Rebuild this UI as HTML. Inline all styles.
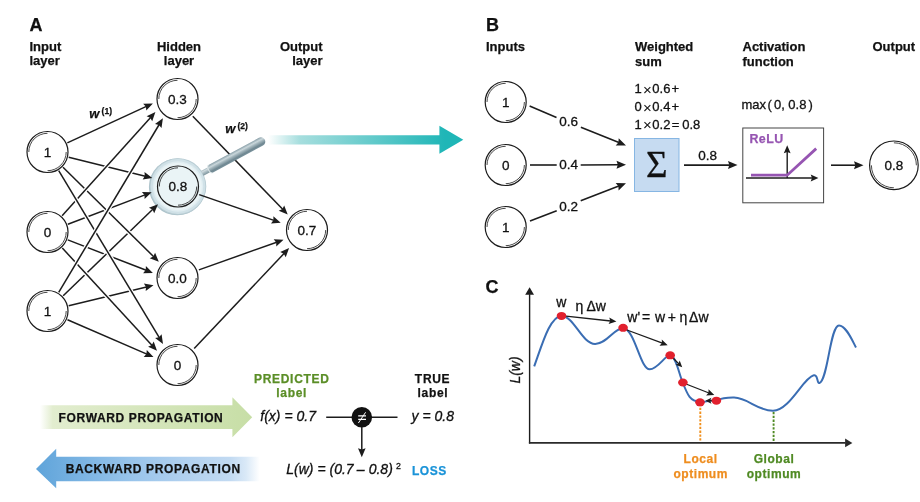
<!DOCTYPE html>
<html><head><meta charset="utf-8"><style>
html,body{margin:0;padding:0;background:#fff;}
svg{display:block;font-family:"Liberation Sans",sans-serif;will-change:transform;}
text{stroke:#111;stroke-width:0.3px;fill:#111;}
text.b{stroke-width:0.25px;}
.b{font-weight:bold;}
.i{font-style:italic;}
</style></head><body>
<svg width="920" height="502" viewBox="0 0 920 502">
<defs>
<linearGradient id="teal" x1="268" y1="0" x2="445" y2="0" gradientUnits="userSpaceOnUse">
<stop offset="0" stop-color="#ffffff"/><stop offset="0.18" stop-color="#a6dede"/><stop offset="1" stop-color="#1fb6b7"/>
</linearGradient>
<linearGradient id="fwd" x1="40" y1="0" x2="252" y2="0" gradientUnits="userSpaceOnUse">
<stop offset="0" stop-color="#ffffff"/><stop offset="0.06" stop-color="#e2edcf"/><stop offset="1" stop-color="#c7dea6"/>
</linearGradient>
<linearGradient id="bwd" x1="36" y1="0" x2="262" y2="0" gradientUnits="userSpaceOnUse">
<stop offset="0" stop-color="#5fa4da"/><stop offset="0.2" stop-color="#7ab3e2"/><stop offset="0.42" stop-color="#98c4eb"/><stop offset="0.65" stop-color="#b0d0ef"/><stop offset="0.86" stop-color="#c2daf2"/><stop offset="0.93" stop-color="#dae9f7"/><stop offset="0.99" stop-color="#ffffff"/>
</linearGradient>
<linearGradient id="handle" x1="0" y1="-4.3" x2="0" y2="4.3" gradientUnits="userSpaceOnUse">
<stop offset="0" stop-color="#8aa0a9"/><stop offset="0.28" stop-color="#cad7db"/><stop offset="0.5" stop-color="#9fb2b9"/><stop offset="0.8" stop-color="#6f8791"/><stop offset="1" stop-color="#7a939d"/>
</linearGradient>
<linearGradient id="handle2" x1="0" y1="-3.4" x2="0" y2="3.4" gradientUnits="userSpaceOnUse">
<stop offset="0" stop-color="#8fa5ad"/><stop offset="0.3" stop-color="#d0dbdf"/><stop offset="0.6" stop-color="#a3b6bd"/><stop offset="1" stop-color="#718992"/>
</linearGradient>
<radialGradient id="lens" cx="0" cy="0" r="28" gradientUnits="userSpaceOnUse">
<stop offset="0" stop-color="#eef7f8"/><stop offset="0.8" stop-color="#e3f0f3"/><stop offset="1" stop-color="#d5e6ea"/>
</radialGradient>
</defs>

<text x="29.5" y="30.6" class="b" font-size="18">A</text>
<text x="486" y="30.5" class="b" font-size="18">B</text>
<text x="485.5" y="292.5" class="b" font-size="18">C</text>
<text class="b" font-size="13"><tspan x="29.5" y="50.5">Input</tspan><tspan x="29.5" y="65.3">layer</tspan></text>
<text class="b" font-size="13" text-anchor="middle"><tspan x="179" y="50.7">Hidden</tspan><tspan x="179" y="64.8">layer</tspan></text>
<text class="b" font-size="13" text-anchor="end"><tspan x="322.5" y="50.7">Output</tspan><tspan x="322.5" y="64.8">layer</tspan></text>
<path d="M268 135.2 L439.4 135.2 L439.4 125.8 L463.3 139.8 L439.4 153.8 L439.4 144.5 L268 144.5Z" fill="url(#teal)"/>
<g transform="translate(178,186.5)">
<circle cx="-0.7" cy="0.4" r="28.4" fill="#a9c0c8"/>
<circle r="28.3" fill="#b9cdd4"/>
<circle r="27.4" fill="#d0e1e7"/>
<circle r="25.2" fill="#e0edf1"/>
<circle r="23.8" fill="#eaf4f6"/>
</g>
<line x1="68.7" y1="305.8" x2="146.5" y2="286.9" stroke="#fff" stroke-width="4.1"/>
<line x1="68.7" y1="305.8" x2="146.5" y2="286.9" stroke="#1c1c1c" stroke-width="1.5"/>
<path d="M153.5 285.2 L145.7 291.0 L146.0 287.0 L143.9 283.6Z" fill="#1c1c1c"/>
<line x1="68.7" y1="157.2" x2="145.3" y2="176.2" stroke="#fff" stroke-width="4.1"/>
<line x1="68.7" y1="157.2" x2="145.3" y2="176.2" stroke="#1c1c1c" stroke-width="1.5"/>
<path d="M152.3 177.9 L142.7 179.4 L144.8 176.1 L144.5 172.1Z" fill="#1c1c1c"/>
<line x1="67.9" y1="224.2" x2="145.0" y2="194.9" stroke="#fff" stroke-width="4.1"/>
<line x1="67.9" y1="224.2" x2="145.0" y2="194.9" stroke="#1c1c1c" stroke-width="1.5"/>
<path d="M151.7 192.3 L144.6 199.1 L144.5 195.0 L141.9 192.0Z" fill="#1c1c1c"/>
<line x1="67.8" y1="239.9" x2="146.2" y2="270.3" stroke="#fff" stroke-width="4.1"/>
<line x1="67.8" y1="239.9" x2="146.2" y2="270.3" stroke="#1c1c1c" stroke-width="1.5"/>
<path d="M152.9 272.9 L143.1 273.2 L145.7 270.1 L145.9 266.1Z" fill="#1c1c1c"/>
<line x1="67.5" y1="319.7" x2="146.9" y2="354.1" stroke="#fff" stroke-width="4.1"/>
<line x1="67.5" y1="319.7" x2="146.9" y2="354.1" stroke="#1c1c1c" stroke-width="1.5"/>
<path d="M153.5 357.0 L143.7 356.9 L146.4 353.9 L146.8 349.9Z" fill="#1c1c1c"/>
<line x1="67.3" y1="142.9" x2="146.4" y2="106.4" stroke="#fff" stroke-width="4.1"/>
<line x1="67.3" y1="142.9" x2="146.4" y2="106.4" stroke="#1c1c1c" stroke-width="1.5"/>
<path d="M152.9 103.4 L146.3 110.6 L145.9 106.6 L143.1 103.7Z" fill="#1c1c1c"/>
<line x1="63.2" y1="295.8" x2="152.8" y2="209.2" stroke="#fff" stroke-width="4.1"/>
<line x1="63.2" y1="295.8" x2="152.8" y2="209.2" stroke="#1c1c1c" stroke-width="1.5"/>
<path d="M158.0 204.2 L154.2 213.2 L152.5 209.6 L148.9 207.7Z" fill="#1c1c1c"/>
<line x1="63.0" y1="167.3" x2="153.7" y2="256.7" stroke="#fff" stroke-width="4.1"/>
<line x1="63.0" y1="167.3" x2="153.7" y2="256.7" stroke="#1c1c1c" stroke-width="1.5"/>
<path d="M158.8 261.8 L149.7 258.2 L153.3 256.4 L155.1 252.8Z" fill="#1c1c1c"/>
<line x1="62.3" y1="248.0" x2="152.1" y2="345.5" stroke="#fff" stroke-width="4.1"/>
<line x1="62.3" y1="248.0" x2="152.1" y2="345.5" stroke="#1c1c1c" stroke-width="1.5"/>
<path d="M157.0 350.8 L148.1 346.8 L151.8 345.1 L153.7 341.6Z" fill="#1c1c1c"/>
<line x1="62.1" y1="215.8" x2="150.6" y2="117.5" stroke="#fff" stroke-width="4.1"/>
<line x1="62.1" y1="215.8" x2="150.6" y2="117.5" stroke="#1c1c1c" stroke-width="1.5"/>
<path d="M155.4 112.1 L152.2 121.3 L150.2 117.8 L146.6 116.2Z" fill="#1c1c1c"/>
<line x1="58.7" y1="170.7" x2="159.3" y2="337.7" stroke="#fff" stroke-width="4.1"/>
<line x1="58.7" y1="170.7" x2="159.3" y2="337.7" stroke="#1c1c1c" stroke-width="1.5"/>
<path d="M163.0 343.9 L155.1 338.1 L159.0 337.3 L161.6 334.2Z" fill="#1c1c1c"/>
<line x1="58.7" y1="292.3" x2="159.2" y2="124.5" stroke="#fff" stroke-width="4.1"/>
<line x1="58.7" y1="292.3" x2="159.2" y2="124.5" stroke="#1c1c1c" stroke-width="1.5"/>
<path d="M162.9 118.3 L161.5 128.0 L158.9 124.9 L155.0 124.1Z" fill="#1c1c1c"/>
<line x1="192.8" y1="116.2" x2="282.7" y2="209.3" stroke="#1c1c1c" stroke-width="1.5"/>
<path d="M287.7 214.5 L278.7 210.7 L282.4 209.0 L284.2 205.4Z" fill="#1c1c1c"/>
<line x1="198.9" y1="269.9" x2="276.7" y2="242.2" stroke="#1c1c1c" stroke-width="1.5"/>
<path d="M283.5 239.8 L276.3 246.4 L276.2 242.4 L273.7 239.2Z" fill="#1c1c1c"/>
<line x1="194.2" y1="348.6" x2="284.2" y2="253.3" stroke="#1c1c1c" stroke-width="1.5"/>
<path d="M289.1 248.1 L285.7 257.3 L283.8 253.7 L280.2 252.0Z" fill="#1c1c1c"/>
<g transform="translate(47.5,152)">
<circle r="20.5" fill="#fff" stroke="#1c1c1c" stroke-width="1.2"/>
<path d="M-18.7 0 A18.7 18.7 0 0 1 0 -18.7 M18.7 0 A18.7 18.7 0 0 1 0 18.7" fill="none" stroke="#1c1c1c" stroke-width="0.8"/>
<text x="0" y="4.83" text-anchor="middle" font-size="13.5">1</text>
</g>
<g transform="translate(47.5,232)">
<circle r="20.5" fill="#fff" stroke="#1c1c1c" stroke-width="1.2"/>
<path d="M-18.7 0 A18.7 18.7 0 0 1 0 -18.7 M18.7 0 A18.7 18.7 0 0 1 0 18.7" fill="none" stroke="#1c1c1c" stroke-width="0.8"/>
<text x="0" y="4.83" text-anchor="middle" font-size="13.5">0</text>
</g>
<g transform="translate(47.5,311)">
<circle r="20.5" fill="#fff" stroke="#1c1c1c" stroke-width="1.2"/>
<path d="M-18.7 0 A18.7 18.7 0 0 1 0 -18.7 M18.7 0 A18.7 18.7 0 0 1 0 18.7" fill="none" stroke="#1c1c1c" stroke-width="0.8"/>
<text x="0" y="4.83" text-anchor="middle" font-size="13.5">1</text>
</g>
<g transform="translate(177.5,99)">
<circle r="20.5" fill="#fff" stroke="#1c1c1c" stroke-width="1.2"/>
<path d="M-18.7 0 A18.7 18.7 0 0 1 0 -18.7 M18.7 0 A18.7 18.7 0 0 1 0 18.7" fill="none" stroke="#1c1c1c" stroke-width="0.8"/>
<text x="0" y="4.83" text-anchor="middle" font-size="13.5">0.3</text>
</g>
<g transform="translate(178,186.5) rotate(-28.4)">
<rect x="27.6" y="-2.7" width="10" height="5.4" fill="url(#handle2)"/>
<path d="M37 -4.3H94.3A4.3 4.3 0 0 1 94.3 4.3H37A2.2 4.3 0 0 1 37 -4.3Z" fill="url(#handle)"/>
<path d="M37 -4.3A2.2 4.3 0 0 0 37 4.3" fill="none" stroke="#e4ecee" stroke-width="1.2" opacity="0.8"/>
</g>
<g transform="translate(178,186.5)">
<circle r="20.5" fill="none" stroke="#1c1c1c" stroke-width="1.2"/>
<path d="M-18.7 0 A18.7 18.7 0 0 1 0 -18.7 M18.7 0 A18.7 18.7 0 0 1 0 18.7" fill="none" stroke="#1c1c1c" stroke-width="0.8"/>
<text x="0" y="4.83" text-anchor="middle" font-size="13.5">0.8</text>
</g>
<line x1="199.2" y1="194.6" x2="273.9" y2="220.4" stroke="#1c1c1c" stroke-width="1.5"/>
<path d="M280.7 222.8 L271.0 223.4 L273.4 220.3 L273.4 216.3Z" fill="#1c1c1c"/>
<g transform="translate(177.5,278)">
<circle r="20.5" fill="#fff" stroke="#1c1c1c" stroke-width="1.2"/>
<path d="M-18.7 0 A18.7 18.7 0 0 1 0 -18.7 M18.7 0 A18.7 18.7 0 0 1 0 18.7" fill="none" stroke="#1c1c1c" stroke-width="0.8"/>
<text x="0" y="4.83" text-anchor="middle" font-size="13.5">0.0</text>
</g>
<g transform="translate(177.5,365)">
<circle r="20.5" fill="#fff" stroke="#1c1c1c" stroke-width="1.2"/>
<path d="M-18.7 0 A18.7 18.7 0 0 1 0 -18.7 M18.7 0 A18.7 18.7 0 0 1 0 18.7" fill="none" stroke="#1c1c1c" stroke-width="0.8"/>
<text x="0" y="4.83" text-anchor="middle" font-size="13.5">0</text>
</g>
<g transform="translate(307,230)">
<circle r="20.5" fill="#fff" stroke="#1c1c1c" stroke-width="1.2"/>
<path d="M-18.7 0 A18.7 18.7 0 0 1 0 -18.7 M18.7 0 A18.7 18.7 0 0 1 0 18.7" fill="none" stroke="#1c1c1c" stroke-width="0.8"/>
<text x="0" y="4.83" text-anchor="middle" font-size="13.5">0.7</text>
</g>
<text x="89.3" y="117.5" class="b i" font-size="13">w</text><text x="101.6" y="113.7" class="b" font-size="8.5">(1)</text>
<text x="225.3" y="132.7" class="b i" font-size="13">w</text><text x="237.4" y="128.9" class="b" font-size="8.5">(2)</text>
<path d="M40 405.2 L232.4 405.2 L232.4 397.3 L252.2 417.2 L232.4 437.3 L232.4 429 L40 429Z" fill="url(#fwd)"/>
<text x="58.6" y="422.3" class="b" font-size="12" letter-spacing="0.64">FORWARD PROPAGATION</text>
<path d="M36 469 L56.2 448.8 L56.2 456.7 L262 456.7 L262 481.3 L56.2 481.3 L56.2 488.3Z" fill="url(#bwd)"/>
<text x="65.7" y="473.4" class="b" font-size="12" letter-spacing="0.64">BACKWARD PROPAGATION</text>
<text class="b" font-size="12" style="fill:#5b8e27;stroke:#5b8e27" text-anchor="middle" letter-spacing="0.7"><tspan x="291.8" y="382.8">PREDICTED</tspan><tspan x="291.7" y="397.4">label</tspan></text>
<text class="b" font-size="12" style="fill:#111;stroke:#111" text-anchor="middle" letter-spacing="0.7"><tspan x="432.6" y="382.8">TRUE</tspan><tspan x="432.9" y="397.4">label</tspan></text>
<text x="260.3" y="420.7" class="i" font-size="14">f(x) = 0.7</text>
<text x="411.6" y="420.7" class="i" font-size="14">y = 0.8</text>
<line x1="326.2" y1="417.2" x2="397.5" y2="417.2" stroke="#1c1c1c" stroke-width="1.5"/>
<circle cx="361.8" cy="417.2" r="10.3" fill="#111"/>
<path d="M358.2 415.8H366M358.2 419.4H366" stroke="#fff" stroke-width="1.3"/><path d="M358.4 423L365.6 412.3" stroke="#fff" stroke-width="1"/>
<line x1="361.8" y1="427.0" x2="361.8" y2="450.1" stroke="#1c1c1c" stroke-width="1.5"/>
<path d="M361.8 457.3 L358.0 448.3 L361.8 449.6 L365.6 448.3Z" fill="#1c1c1c"/>
<text y="473.7" class="i" font-size="14"><tspan x="286.3">L(w) = (0.7</tspan><tspan x="356.8">–</tspan><tspan x="368.7">0.8)</tspan></text><text x="396" y="468.8" font-size="8.8">2</text>
<text x="411.9" y="474.7" class="b" font-size="12" style="fill:#1a93d8;stroke:#1a93d8" letter-spacing="0.6">LOSS</text>
<text class="b" font-size="13" x="486" y="50.5">Inputs</text>
<text class="b" font-size="13"><tspan x="635" y="50.5">Weighted</tspan><tspan x="635" y="65.5">sum</tspan></text>
<text class="b" font-size="13"><tspan x="742.5" y="50.5">Activation</tspan><tspan x="742.5" y="65.5">function</tspan></text>
<text class="b" font-size="13" x="872.5" y="50.5">Output</text>
<g transform="translate(505.7,102)">
<circle r="20.5" fill="#fff" stroke="#1c1c1c" stroke-width="1.2"/>
<path d="M-18.7 0 A18.7 18.7 0 0 1 0 -18.7 M18.7 0 A18.7 18.7 0 0 1 0 18.7" fill="none" stroke="#1c1c1c" stroke-width="0.8"/>
<text x="0" y="4.83" text-anchor="middle" font-size="13.5">1</text>
</g>
<g transform="translate(505.7,165)">
<circle r="20.5" fill="#fff" stroke="#1c1c1c" stroke-width="1.2"/>
<path d="M-18.7 0 A18.7 18.7 0 0 1 0 -18.7 M18.7 0 A18.7 18.7 0 0 1 0 18.7" fill="none" stroke="#1c1c1c" stroke-width="0.8"/>
<text x="0" y="4.83" text-anchor="middle" font-size="13.5">0</text>
</g>
<g transform="translate(505.7,227)">
<circle r="20.5" fill="#fff" stroke="#1c1c1c" stroke-width="1.2"/>
<path d="M-18.7 0 A18.7 18.7 0 0 1 0 -18.7 M18.7 0 A18.7 18.7 0 0 1 0 18.7" fill="none" stroke="#1c1c1c" stroke-width="0.8"/>
<text x="0" y="4.83" text-anchor="middle" font-size="13.5">1</text>
</g>
<line x1="529.6" y1="106.1" x2="556.5" y2="117.5" stroke="#1c1c1c" stroke-width="1.6"/>
<line x1="580.9" y1="127.2" x2="618.9" y2="142.6" stroke="#1c1c1c" stroke-width="1.6"/>
<path d="M626.0 145.5 L615.7 145.6 L618.4 142.4 L618.7 138.2Z" fill="#1c1c1c"/>
<line x1="530" y1="165" x2="556.7" y2="165" stroke="#1c1c1c" stroke-width="1.6"/>
<line x1="580.7" y1="165.0" x2="618.3" y2="164.8" stroke="#1c1c1c" stroke-width="1.6"/>
<path d="M626.0 164.8 L616.5 168.8 L617.8 164.8 L616.5 160.8Z" fill="#1c1c1c"/>
<line x1="530" y1="220.9" x2="556.7" y2="210.7" stroke="#1c1c1c" stroke-width="1.6"/>
<line x1="580.7" y1="200.8" x2="618.8" y2="186.1" stroke="#1c1c1c" stroke-width="1.6"/>
<path d="M626.0 183.3 L618.6 190.5 L618.4 186.3 L615.7 183.0Z" fill="#1c1c1c"/>
<text font-size="13.5" x="559.3" y="126.1">0.6</text>
<text font-size="13.5" x="559.3" y="169.4">0.4</text>
<text font-size="13.5" x="559.3" y="211.2">0.2</text>
<text font-size="13"><tspan x="634.4" y="93.3">1</tspan><tspan x="643" y="95" font-size="15" stroke-width="0">×</tspan><tspan x="652.3" y="93.3">0.6</tspan><tspan x="671.6">+</tspan><tspan x="634.4" y="111">0</tspan><tspan x="643" y="112.7" font-size="15" stroke-width="0">×</tspan><tspan x="652.3" y="111">0.4</tspan><tspan x="671.6">+</tspan><tspan x="634.4" y="128.6">1</tspan><tspan x="643" y="130.3" font-size="15" stroke-width="0">×</tspan><tspan x="652.3" y="128.6">0.2</tspan><tspan x="671.8">=</tspan><tspan x="682.2">0.8</tspan></text>
<rect x="634.5" y="138.5" width="44.5" height="53" fill="#c6dbf1" stroke="#86b6e3" stroke-width="1"/>
<text x="656.7" y="177.3" font-family="Liberation Serif" font-size="37" text-anchor="middle">Σ</text>
<line x1="684.0" y1="165.1" x2="729.8" y2="165.1" stroke="#1c1c1c" stroke-width="1.6"/>
<path d="M737.5 165.1 L728.0 169.1 L729.3 165.1 L728.0 161.1Z" fill="#1c1c1c"/>
<text font-size="13.5" x="698.3" y="160.1">0.8</text>
<text font-size="13" y="109.3"><tspan x="741.5">max</tspan><tspan x="767.5">(</tspan><tspan x="774">0,</tspan><tspan x="788.3">0.8</tspan><tspan x="808.6">)</tspan></text>
<rect x="742.8" y="128" width="80.8" height="74.8" fill="#fff" stroke="#444" stroke-width="1"/>
<text x="749.4" y="143.4" class="b" font-size="12.4" style="fill:#9655b2;stroke:#9655b2" letter-spacing="0.5">ReLU</text>
<line x1="746.0" y1="178.0" x2="812.5" y2="178.0" stroke="#1c1c1c" stroke-width="1.4"/>
<path d="M818.4 178.0 L810.7 181.6 L812.0 178.0 L810.7 174.4Z" fill="#1c1c1c"/>
<line x1="787.2" y1="178.0" x2="787.2" y2="151.5" stroke="#1c1c1c" stroke-width="1.4"/>
<path d="M787.2 145.3 L790.6 153.3 L787.2 152.0 L783.8 153.3Z" fill="#1c1c1c"/>
<polyline points="751,175.2 787.2,175.2 816.2,148.6" fill="none" stroke="#9655b2" stroke-width="2.8"/>
<line x1="831.0" y1="165.2" x2="855.8" y2="165.2" stroke="#1c1c1c" stroke-width="1.6"/>
<path d="M863.5 165.2 L854.0 169.2 L855.3 165.2 L854.0 161.2Z" fill="#1c1c1c"/>
<g transform="translate(893.9,165.3)">
<circle r="24.3" fill="#fff" stroke="#1c1c1c" stroke-width="1.2"/>
<path d="M0 -22.5 A22.5 22.5 0 0 1 22.5 0 M0 22.5 A22.5 22.5 0 0 1 -22.5 0" fill="none" stroke="#1c1c1c" stroke-width="0.8"/>
<text x="0" y="4.83" text-anchor="middle" font-size="13.5">0.8</text>
</g>
<line x1="529.6" y1="443.5" x2="529.6" y2="294.2" stroke="#1c1c1c" stroke-width="1.4"/>
<path d="M529.6 287.2 L534.0 294.7 L529.6 294.7 L525.2 294.7Z" fill="#1c1c1c"/>
<line x1="528.9" y1="442.9" x2="845.6" y2="442.9" stroke="#2a2a2a" stroke-width="1.9"/>
<path d="M852.4 442.9 L845.1 447.2 L845.1 442.9 L845.1 438.6Z" fill="#2a2a2a"/>
<text transform="translate(520,383.6) rotate(-90)" class="i" font-size="14">L(w)</text>
<line x1="700.3" y1="404" x2="700.3" y2="442" stroke="#f0901e" stroke-width="1.9" stroke-dasharray="2.3 1.5"/>
<line x1="773.6" y1="412" x2="773.6" y2="442" stroke="#4f8a23" stroke-width="1.9" stroke-dasharray="2.3 1.5"/>
<path d="M534.2 366.4 C542 345, 550 316, 561.5 315.9 C574 316, 582 344, 595.1 343.9 C607 344, 614 328, 623.1 328.3 C635 329, 640 369.3, 649.7 369.3 C658 369.3, 665 355, 670.2 355.3 C676 356, 679 374, 682.7 382.5 C688 396, 690 401, 700 401.9 C708 402.5, 712 399, 716.5 400.5 C722 398, 728 397.5, 734.1 397.6 C748 398, 758 411, 773.1 410.8 C790 410, 803 378, 813.7 375.3 C818 374, 817 384, 819.4 383 C828 380, 830 325.5, 839 325.5 C846 325.5, 852 340, 856 347.5" fill="none" stroke="#3a6db3" stroke-width="2"/>
<line x1="566.0" y1="316.2" x2="610.7" y2="321.0" stroke="#1c1c1c" stroke-width="1.3"/>
<path d="M616.4 321.6 L608.6 324.1 L610.2 320.9 L609.3 317.5Z" fill="#1c1c1c"/>
<line x1="627.0" y1="330.0" x2="662.4" y2="343.2" stroke="#1c1c1c" stroke-width="1.3"/>
<path d="M667.7 345.2 L659.5 345.7 L661.9 343.0 L661.8 339.5Z" fill="#1c1c1c"/>
<line x1="673.0" y1="358.0" x2="678.9" y2="363.9" stroke="#1c1c1c" stroke-width="1.3"/>
<path d="M682.2 367.2 L675.5 364.7 L678.5 363.5 L679.7 360.5Z" fill="#1c1c1c"/>
<line x1="686.0" y1="384.0" x2="709.0" y2="393.0" stroke="#1c1c1c" stroke-width="1.3"/>
<path d="M714.3 395.1 L706.1 395.4 L708.5 392.8 L708.5 389.3Z" fill="#1c1c1c"/>
<line x1="712.0" y1="400.7" x2="709.6" y2="400.7" stroke="#1c1c1c" stroke-width="1.3"/>
<path d="M705.4 400.8 L711.4 397.7 L710.1 400.7 L711.4 403.7Z" fill="#1c1c1c"/>
<ellipse cx="561.5" cy="315.9" rx="4.8" ry="4" fill="#e1202e"/>
<ellipse cx="623.1" cy="327.8" rx="4.8" ry="4" fill="#e1202e"/>
<ellipse cx="670.2" cy="355.3" rx="4.8" ry="4" fill="#e1202e"/>
<ellipse cx="682.9" cy="382.5" rx="4.8" ry="4" fill="#e1202e"/>
<ellipse cx="700" cy="402.3" rx="4.8" ry="4" fill="#e1202e"/>
<ellipse cx="716.4" cy="400.7" rx="4.8" ry="4" fill="#e1202e"/>
<text x="556.2" y="307.2" font-size="14">w</text>
<text x="575.5" y="311.4" font-size="14">η Δw</text>
<text y="321.5" font-size="14"><tspan x="627.3">w'</tspan><tspan x="641.9">=</tspan><tspan x="655">w</tspan><tspan x="667.7">+</tspan><tspan x="679.6">η</tspan><tspan x="689.1">Δw</tspan></text>
<text class="b" font-size="12" style="fill:#ee8d1f;stroke:#ee8d1f" text-anchor="middle" letter-spacing="0.55"><tspan x="700.6" y="463.4">Local</tspan><tspan x="700.7" y="477.8">optimum</tspan></text>
<text class="b" font-size="12" style="fill:#4f8a23;stroke:#4f8a23" text-anchor="middle" letter-spacing="0.55"><tspan x="774" y="463.4">Global</tspan><tspan x="774" y="477.8">optimum</tspan></text>
</svg></body></html>
